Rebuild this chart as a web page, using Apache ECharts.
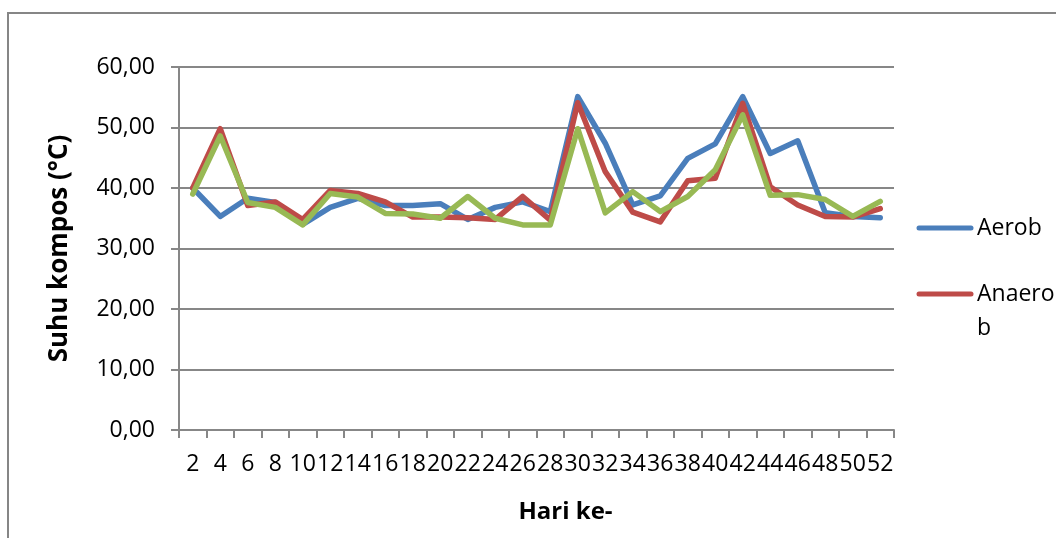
<!DOCTYPE html>
<html>
<head>
<meta charset="utf-8">
<script src="https://cdn.jsdelivr.net/npm/echarts@6/dist/echarts.min.js"></script>
<style>
  html, body { margin: 0; padding: 0; background: #fff; }
  #chart { width: 1056px; height: 538px; }
</style>
</head>
<body>
<div id="chart"></div>
<script>
// Hari pengamatan (sumbu X)
const days = ['2', '4', '6', '8', '10', '12', '14', '16', '18', '20', '22', '24', '26',
              '28', '30', '32', '34', '36', '38', '40', '42', '44', '46', '48', '50', '52'];

// Suhu kompos (°C) per perlakuan
const aerob = [40.0, 35.3, 38.3, 37.6, 34.0, 36.8, 38.3, 37.1, 37.1, 37.4, 34.8, 36.8, 37.7,
               36.1, 55.1, 47.4, 37.2, 38.7, 44.9, 47.3, 55.1, 45.7, 47.8, 35.9, 35.3, 35.1];
const anaerob = [40.0, 49.8, 37.1, 37.7, 34.8, 39.6, 39.1, 37.7, 35.2, 35.2, 35.1, 34.8, 38.6,
                 34.7, 54.1, 42.7, 36.0, 34.4, 41.2, 41.6, 54.0, 40.2, 37.2, 35.3, 35.2, 36.6];
const kontrol = [39.0, 48.6, 37.6, 36.8, 33.9, 39.1, 38.5, 35.8, 35.7, 35.0, 38.6, 35.0, 33.9,
                 33.9, 49.8, 35.9, 39.4, 36.1, 38.6, 43.0, 52.1, 38.8, 38.9, 38.1, 35.3, 37.8];

const seriesNames = ['Aerob', 'Anaerob', 'Kontrol'];
const legendLabels = ['Aerob', 'Anaero\nb'];
const colors = ['#4A7EBB', '#BE4B48', '#98B954'];

const FONT = '"Open Sans", "Liberation Sans", sans-serif';
const GRID_COLOR = '#878787';

const chart = echarts.init(document.getElementById('chart'), null, { renderer: 'canvas' });

function lineSeries(name, data, color) {
  return {
    name: name,
    type: 'line',
    data: data,
    symbol: 'none',
    smooth: false,
    lineStyle: { color: color, width: 5.5, cap: 'round', join: 'round' },
    itemStyle: { color: color },
    emphasis: { disabled: true }
  };
}

// Legend swatches and labels on the right side
const legendGraphics = [];
const legendRows = [228, 294];
legendLabels.forEach((label, i) => {
  legendGraphics.push({
    type: 'line',
    shape: { x1: 919, y1: legendRows[i], x2: 971, y2: legendRows[i] },
    style: { stroke: colors[i], lineWidth: 5, lineCap: 'round' },
    silent: true
  });
  legendGraphics.push({
    type: 'text',
    left: 977,
    top: legendRows[i] - 17,
    style: {
      text: label,
      font: '23px ' + FONT,
      fill: '#000',
      lineHeight: 34,
      textVerticalAlign: 'top'
    },
    silent: true
  });
});

// Outer chart frame
legendGraphics.push({
  type: 'polyline',
  shape: { points: [[8, 540], [8, 13], [1060, 13]] },
  style: { stroke: '#868686', lineWidth: 2, fill: null },
  silent: true
});

chart.setOption({
  animation: false,
  backgroundColor: '#ffffff',
  color: colors,
  grid: { left: 179, right: 162, top: 67, bottom: 108, containLabel: false },
  xAxis: {
    type: 'category',
    data: days,
    boundaryGap: true,
    name: 'Hari ke-',
    nameLocation: 'middle',
    nameGap: 70,
    nameTextStyle: {
      fontFamily: FONT, fontSize: 24, fontWeight: 'bold', color: '#000',
      padding: [0, 0, 0, 58]
    },
    axisLine: { lineStyle: { color: GRID_COLOR, width: 2 } },
    axisTick: { show: true, interval: 0, length: 8, alignWithLabel: false,
                lineStyle: { color: GRID_COLOR, width: 2 } },
    axisLabel: { interval: 0, margin: 23, fontFamily: FONT, fontSize: 23, color: '#000' },
    splitLine: { show: false }
  },
  yAxis: {
    type: 'value',
    min: 0,
    max: 60,
    interval: 10,
    name: 'Suhu kompos (°C)',
    nameLocation: 'middle',
    nameRotate: 90,
    nameGap: 106,
    nameTextStyle: { fontFamily: FONT, fontSize: 26, fontWeight: 'bold', color: '#000' },
    axisLine: { show: true, lineStyle: { color: GRID_COLOR, width: 2 } },
    axisTick: { show: true, length: 8, lineStyle: { color: GRID_COLOR, width: 2 } },
    axisLabel: {
      margin: 24, fontFamily: FONT, fontSize: 23, color: '#000',
      formatter: v => v.toFixed(2).replace('.', ',')
    },
    splitLine: { show: true, lineStyle: { color: GRID_COLOR, width: 2 } }
  },
  series: [
    lineSeries(seriesNames[0], aerob, colors[0]),
    lineSeries(seriesNames[1], anaerob, colors[1]),
    lineSeries(seriesNames[2], kontrol, colors[2])
  ],
  graphic: legendGraphics
});
</script>
</body>
</html>
